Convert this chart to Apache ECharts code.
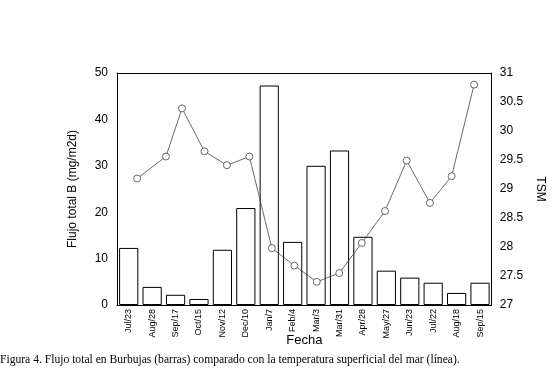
<!doctype html>
<html>
    <head>
        <meta charset="utf-8">
        <title>Flujo total en Burbujas vs TSM</title>
        <style>
            html, body { margin: 0; padding: 0; background: #fff; }
            #main { width: 554px; height: 370px; }
        </style>
    </head>
    <body>
        <div id="main"></div>
        <script src="https://cdn.jsdelivr.net/npm/echarts@6/dist/echarts.min.js"></script>
        <script>
            // muestreos (etiquetas del eje x)
            var categorias = ['Jul/23', 'Aug/28', 'Sep/17', 'Oct/15', 'Nov/12', 'Dec/10', 'Jan/7', 'Feb/4',
                'Mar/3', 'Mar/31', 'Apr/28', 'May/27', 'Jun/23', 'Jul/22', 'Aug/18', 'Sep/15'];
            // flujo total B (mg/m2d) - barras
            var flujo = [12.3, 3.9, 2.2, 1.3, 11.9, 20.9, 47.3, 13.6, 30.0, 33.3, 14.7, 7.4, 5.9, 4.8, 2.6, 4.8];
            // fechas reales de cada muestreo (la linea va sobre escala de tiempo)
            var fechas = ['2003-07-23', '2003-08-28', '2003-09-17', '2003-10-15', '2003-11-12', '2003-12-10',
                '2004-01-07', '2004-02-04', '2004-03-03', '2004-03-31', '2004-04-28', '2004-05-27',
                '2004-06-23', '2004-07-22', '2004-08-18', '2004-09-15'];
            // temperatura superficial del mar
            var tsm = [29.18, 29.56, 30.39, 29.65, 29.41, 29.56, 27.98, 27.68, 27.40, 27.55, 28.07, 28.62,
                29.49, 28.76, 29.22, 30.80];

            var font = 'Liberation Sans, Arial, sans-serif';
            var chart = echarts.init(document.getElementById('main'));

            chart.setOption({
                animation: false,
                title: {
                    text: 'Figura 4. Flujo total en Burbujas (barras) comparado con la temperatura superficial del mar (línea).',
                    left: 0,
                    top: 354,
                    padding: 0,
                    textStyle: {
                        fontFamily: 'Liberation Serif, Times New Roman, serif',
                        fontSize: 11.6,
                        fontWeight: 'normal',
                        color: '#000'
                    }
                },
                grid: {
                    left: 117,
                    right: 62,
                    top: 73,
                    bottom: 65
                },
                xAxis: [{
                    type: 'category',
                    data: categorias,
                    name: 'Fecha',
                    nameLocation: 'middle',
                    nameGap: 29,
                    nameMoveOverlap: false,
                    nameTextStyle: { fontFamily: font, fontSize: 13, color: '#000' },
                    axisLine: { lineStyle: { color: '#000', width: 1 } },
                    axisTick: { inside: true, length: 4, lineStyle: { color: '#000' } },
                    axisLabel: {
                        rotate: 90,
                        fontFamily: 'Liberation Sans Narrow, Liberation Sans, sans-serif',
                        fontSize: 9,
                        color: '#000',
                        margin: 4
                    }
                }, {
                    type: 'category',
                    data: categorias,
                    position: 'top',
                    axisLine: { lineStyle: { color: '#000', width: 1 } },
                    axisTick: { inside: true, length: 4, lineStyle: { color: '#000' } },
                    axisLabel: { show: false }
                }, {
                    type: 'time',
                    show: false,
                    min: '2003-06-28',
                    max: '2004-10-07'
                }],
                yAxis: [{
                    type: 'value',
                    min: 0,
                    max: 50,
                    interval: 10,
                    name: 'Flujo total B (mg/m2d)',
                    nameLocation: 'middle',
                    nameGap: 38,
                    nameTextStyle: { fontFamily: font, fontSize: 12, color: '#000' },
                    axisLine: { show: true, lineStyle: { color: '#000', width: 1 } },
                    axisTick: { show: false },
                    splitLine: { show: false },
                    axisLabel: { fontFamily: font, fontSize: 12, color: '#000', margin: 9 }
                }, {
                    type: 'value',
                    min: 27,
                    max: 31,
                    interval: 0.5,
                    position: 'right',
                    name: 'TSM',
                    nameLocation: 'middle',
                    nameGap: 38,
                    nameRotate: -90,
                    nameTextStyle: { fontFamily: font, fontSize: 12, color: '#000' },
                    axisLine: { show: true, lineStyle: { color: '#000', width: 1 } },
                    axisTick: { inside: true, length: 4, lineStyle: { color: '#000' } },
                    splitLine: { show: false },
                    axisLabel: { fontFamily: font, fontSize: 12, color: '#000', margin: 8 }
                }],
                series: [{
                    type: 'bar',
                    data: flujo,
                    xAxisIndex: 0,
                    yAxisIndex: 0,
                    barCategoryGap: '18%',
                    itemStyle: { color: '#fff', borderColor: '#000', borderWidth: 1 },
                    silent: true
                }, {
                    type: 'line',
                    data: fechas.map(function (d, i) { return [d, tsm[i]]; }),
                    xAxisIndex: 2,
                    yAxisIndex: 1,
                    symbol: 'circle',
                    symbolSize: 7,
                    lineStyle: { color: '#444', width: 0.8 },
                    itemStyle: { color: '#fff', borderColor: '#444', borderWidth: 0.8 },
                    z: 3,
                    silent: true
                }]
            });
            window.addEventListener('resize', function () {
                chart.resize();
            });
        </script>
    </body>
</html>
